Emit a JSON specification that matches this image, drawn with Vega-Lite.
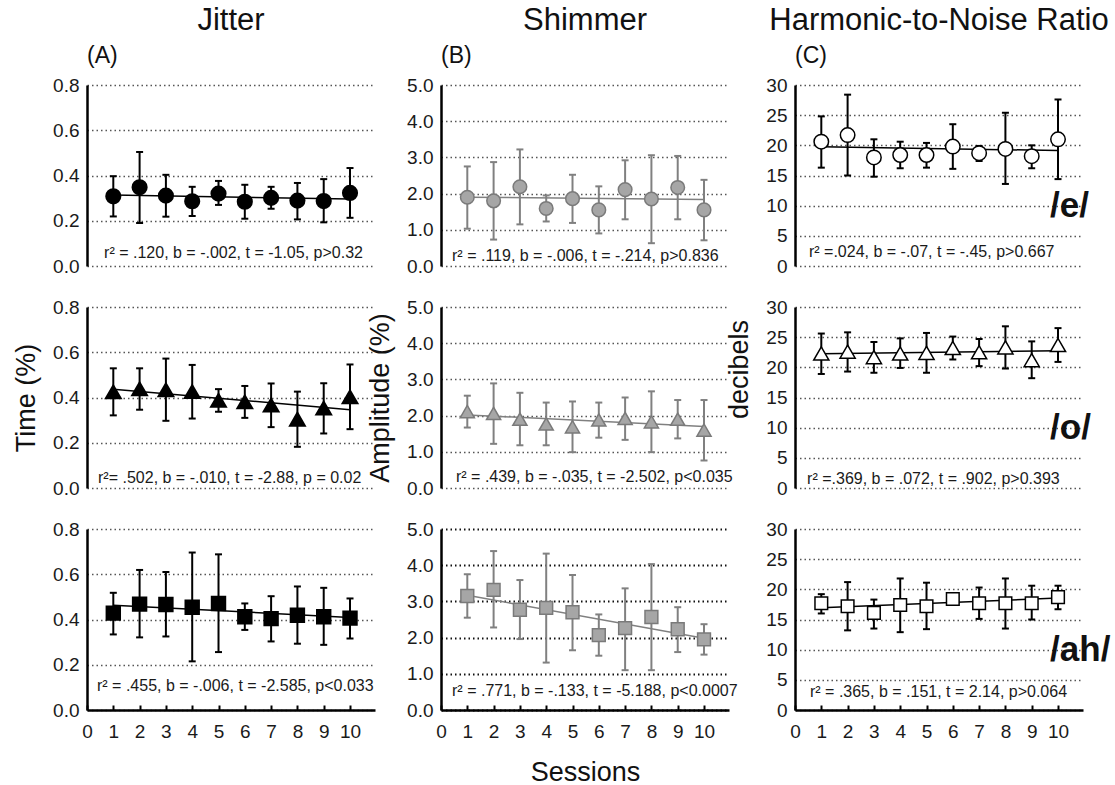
{
"$schema": "https://vega.github.io/schema/vega-lite/v6.json",
"background": "white",
"padding": {"left": 12, "top": 5, "right": 5, "bottom": 0},
"config": {
 "font": "Liberation Sans",
 "view": {"stroke": null},
 "title": {"font": "Liberation Sans", "fontSize": 31, "fontWeight": "normal", "color": "#111", "anchor": "middle", "offset": 8},
 "text": {"font": "Liberation Sans"},
 "axis": {"labelFont": "Liberation Sans", "labelFontSize": 19, "labelColor": "#1a1a1a", "titleFont": "Liberation Sans", "titleFontSize": 27, "titleFontWeight": "normal", "titleColor": "#111", "domainColor": "#000", "domainWidth": 2.5, "ticks": false, "labelPadding": 8, "labelFlush": false, "labelOverlap": false},
 "axisY": {"grid": true, "gridColor": "#555", "gridDash": [1.5, 3], "gridWidth": 1.5, "titlePadding": 12},
 "axisX": {"grid": false, "ticks": true, "tickSize": -5, "tickWidth": 2, "tickColor": "#000", "labelPadding": 17, "titlePadding": 18, "titleFontSize": 27}
},
"datasets": {
 "pts": [
  {"m":"J","v":"e","s":1,"mean":0.308,"lo":0.219,"hi":0.397},
  {"m":"J","v":"e","s":2,"mean":0.348,"lo":0.19,"hi":0.504},
  {"m":"J","v":"e","s":3,"mean":0.311,"lo":0.218,"hi":0.403},
  {"m":"J","v":"e","s":4,"mean":0.286,"lo":0.221,"hi":0.35},
  {"m":"J","v":"e","s":5,"mean":0.32,"lo":0.27,"hi":0.376},
  {"m":"J","v":"e","s":6,"mean":0.284,"lo":0.209,"hi":0.359},
  {"m":"J","v":"e","s":7,"mean":0.301,"lo":0.253,"hi":0.35},
  {"m":"J","v":"e","s":8,"mean":0.289,"lo":0.206,"hi":0.367},
  {"m":"J","v":"e","s":9,"mean":0.287,"lo":0.193,"hi":0.384},
  {"m":"J","v":"e","s":10,"mean":0.323,"lo":0.213,"hi":0.433},
  {"m":"J","v":"o","s":1,"mean":0.425,"lo":0.321,"hi":0.529},
  {"m":"J","v":"o","s":2,"mean":0.438,"lo":0.346,"hi":0.529},
  {"m":"J","v":"o","s":3,"mean":0.434,"lo":0.297,"hi":0.572},
  {"m":"J","v":"o","s":4,"mean":0.426,"lo":0.307,"hi":0.544},
  {"m":"J","v":"o","s":5,"mean":0.387,"lo":0.337,"hi":0.437},
  {"m":"J","v":"o","s":6,"mean":0.381,"lo":0.31,"hi":0.451},
  {"m":"J","v":"o","s":7,"mean":0.366,"lo":0.269,"hi":0.462},
  {"m":"J","v":"o","s":8,"mean":0.304,"lo":0.182,"hi":0.426},
  {"m":"J","v":"o","s":9,"mean":0.353,"lo":0.241,"hi":0.463},
  {"m":"J","v":"o","s":10,"mean":0.403,"lo":0.26,"hi":0.546},
  {"m":"J","v":"ah","s":1,"mean":0.428,"lo":0.334,"hi":0.518},
  {"m":"J","v":"ah","s":2,"mean":0.468,"lo":0.321,"hi":0.619},
  {"m":"J","v":"ah","s":3,"mean":0.466,"lo":0.325,"hi":0.61},
  {"m":"J","v":"ah","s":4,"mean":0.454,"lo":0.215,"hi":0.696},
  {"m":"J","v":"ah","s":5,"mean":0.471,"lo":0.256,"hi":0.688},
  {"m":"J","v":"ah","s":6,"mean":0.412,"lo":0.354,"hi":0.471},
  {"m":"J","v":"ah","s":7,"mean":0.404,"lo":0.303,"hi":0.503},
  {"m":"J","v":"ah","s":8,"mean":0.419,"lo":0.293,"hi":0.546},
  {"m":"J","v":"ah","s":9,"mean":0.412,"lo":0.288,"hi":0.54},
  {"m":"J","v":"ah","s":10,"mean":0.406,"lo":0.316,"hi":0.493},
  {"m":"S","v":"e","s":1,"mean":1.9,"lo":1.03,"hi":2.75},
  {"m":"S","v":"e","s":2,"mean":1.8,"lo":0.73,"hi":2.87},
  {"m":"S","v":"e","s":3,"mean":2.19,"lo":1.15,"hi":3.22},
  {"m":"S","v":"e","s":4,"mean":1.59,"lo":1.23,"hi":1.95},
  {"m":"S","v":"e","s":5,"mean":1.86,"lo":1.19,"hi":2.52},
  {"m":"S","v":"e","s":6,"mean":1.55,"lo":0.9,"hi":2.2},
  {"m":"S","v":"e","s":7,"mean":2.11,"lo":1.29,"hi":2.92},
  {"m":"S","v":"e","s":8,"mean":1.85,"lo":0.63,"hi":3.06},
  {"m":"S","v":"e","s":9,"mean":2.17,"lo":1.29,"hi":3.04},
  {"m":"S","v":"e","s":10,"mean":1.55,"lo":0.71,"hi":2.38},
  {"m":"S","v":"o","s":1,"mean":2.11,"lo":1.67,"hi":2.55},
  {"m":"S","v":"o","s":2,"mean":2.06,"lo":1.22,"hi":2.89},
  {"m":"S","v":"o","s":3,"mean":1.9,"lo":1.18,"hi":2.63},
  {"m":"S","v":"o","s":4,"mean":1.77,"lo":1.18,"hi":2.36},
  {"m":"S","v":"o","s":5,"mean":1.69,"lo":0.99,"hi":2.39},
  {"m":"S","v":"o","s":6,"mean":1.88,"lo":1.39,"hi":2.36},
  {"m":"S","v":"o","s":7,"mean":1.92,"lo":1.33,"hi":2.5},
  {"m":"S","v":"o","s":8,"mean":1.83,"lo":0.99,"hi":2.67},
  {"m":"S","v":"o","s":9,"mean":1.9,"lo":1.37,"hi":2.43},
  {"m":"S","v":"o","s":10,"mean":1.6,"lo":0.76,"hi":2.43},
  {"m":"S","v":"ah","s":1,"mean":3.15,"lo":2.55,"hi":3.75},
  {"m":"S","v":"ah","s":2,"mean":3.32,"lo":2.28,"hi":4.39},
  {"m":"S","v":"ah","s":3,"mean":2.77,"lo":1.96,"hi":3.59},
  {"m":"S","v":"ah","s":4,"mean":2.82,"lo":1.31,"hi":4.32},
  {"m":"S","v":"ah","s":5,"mean":2.7,"lo":1.65,"hi":3.73},
  {"m":"S","v":"ah","s":6,"mean":2.07,"lo":1.5,"hi":2.64},
  {"m":"S","v":"ah","s":7,"mean":2.26,"lo":1.1,"hi":3.36},
  {"m":"S","v":"ah","s":8,"mean":2.57,"lo":1.1,"hi":4.03},
  {"m":"S","v":"ah","s":9,"mean":2.23,"lo":1.6,"hi":2.84},
  {"m":"S","v":"ah","s":10,"mean":1.95,"lo":1.53,"hi":2.37},
  {"m":"H","v":"e","s":1,"mean":20.6,"lo":16.3,"hi":24.8},
  {"m":"H","v":"e","s":2,"mean":21.7,"lo":15.0,"hi":28.4},
  {"m":"H","v":"e","s":3,"mean":18.0,"lo":14.8,"hi":21.0},
  {"m":"H","v":"e","s":4,"mean":18.4,"lo":16.2,"hi":20.6},
  {"m":"H","v":"e","s":5,"mean":18.4,"lo":16.3,"hi":20.4},
  {"m":"H","v":"e","s":6,"mean":19.8,"lo":16.1,"hi":23.5},
  {"m":"H","v":"e","s":7,"mean":18.7,"lo":17.4,"hi":19.9},
  {"m":"H","v":"e","s":8,"mean":19.4,"lo":13.6,"hi":25.4},
  {"m":"H","v":"e","s":9,"mean":18.2,"lo":16.2,"hi":20.0},
  {"m":"H","v":"e","s":10,"mean":21.0,"lo":14.4,"hi":27.6},
  {"m":"H","v":"o","s":1,"mean":22.3,"lo":18.9,"hi":25.6},
  {"m":"H","v":"o","s":2,"mean":22.6,"lo":19.3,"hi":25.8},
  {"m":"H","v":"o","s":3,"mean":21.7,"lo":19.1,"hi":24.2},
  {"m":"H","v":"o","s":4,"mean":22.3,"lo":19.9,"hi":24.8},
  {"m":"H","v":"o","s":5,"mean":22.4,"lo":19.1,"hi":25.7},
  {"m":"H","v":"o","s":6,"mean":23.2,"lo":21.3,"hi":25.1},
  {"m":"H","v":"o","s":7,"mean":22.5,"lo":20.2,"hi":24.7},
  {"m":"H","v":"o","s":8,"mean":23.3,"lo":19.8,"hi":26.8},
  {"m":"H","v":"o","s":9,"mean":21.2,"lo":18.2,"hi":24.3},
  {"m":"H","v":"o","s":10,"mean":23.7,"lo":20.9,"hi":26.5},
  {"m":"H","v":"ah","s":1,"mean":17.7,"lo":16.0,"hi":19.2},
  {"m":"H","v":"ah","s":2,"mean":17.2,"lo":13.2,"hi":21.2},
  {"m":"H","v":"ah","s":3,"mean":16.1,"lo":13.5,"hi":18.3},
  {"m":"H","v":"ah","s":4,"mean":17.4,"lo":12.9,"hi":21.8},
  {"m":"H","v":"ah","s":5,"mean":17.2,"lo":13.4,"hi":21.1},
  {"m":"H","v":"ah","s":6,"mean":18.4,"lo":17.8,"hi":19.0},
  {"m":"H","v":"ah","s":7,"mean":17.7,"lo":15.1,"hi":20.3},
  {"m":"H","v":"ah","s":8,"mean":17.7,"lo":13.5,"hi":21.8},
  {"m":"H","v":"ah","s":9,"mean":17.7,"lo":15.0,"hi":20.6},
  {"m":"H","v":"ah","s":10,"mean":18.7,"lo":16.7,"hi":20.6}
 ],
 "fit": [
  {"m":"J","v":"e","s":1,"f":0.314},{"m":"J","v":"e","s":10,"f":0.296},
  {"m":"J","v":"o","s":1,"f":0.437},{"m":"J","v":"o","s":10,"f":0.346},
  {"m":"J","v":"ah","s":1,"f":0.463},{"m":"J","v":"ah","s":10,"f":0.409},
  {"m":"S","v":"e","s":1,"f":1.9},{"m":"S","v":"e","s":10,"f":1.84},
  {"m":"S","v":"o","s":1,"f":2.02},{"m":"S","v":"o","s":10,"f":1.7},
  {"m":"S","v":"ah","s":1,"f":3.17},{"m":"S","v":"ah","s":10,"f":1.98},
  {"m":"H","v":"e","s":1,"f":19.75},{"m":"H","v":"e","s":10,"f":19.14},
  {"m":"H","v":"o","s":1,"f":22.25},{"m":"H","v":"o","s":10,"f":22.75},
  {"m":"H","v":"ah","s":1,"f":16.95},{"m":"H","v":"ah","s":10,"f":18.55}
 ]
},
"columns": 3,
"bounds": "flush",
"spacing": {"row": 41, "column": 66},
"concat": [
 {
  "width": 288, "height": 181,
  "title": {"text": "Jitter", "frame": "group"},
  "resolve": {"axis": {"x": "independent", "y": "independent"}},
  "layer": [
   {"encoding": {
     "x": {"field": "s", "type": "quantitative", "scale": {"domain": [0, 10.95], "nice": false}, "axis": null},
     "y": {"field": "mean", "type": "quantitative", "scale": {"domain": [0, 0.8], "nice": false}, "axis": {"values": [0, 0.2, 0.4, 0.6, 0.8], "tickCount": 5, "format": ".1f", "title": null}}},
    "layer": [
     {"data": {"name": "pts"}, "transform": [{"filter": "datum.m == 'J' && datum.v == 'e'"}], "mark": {"type": "rule", "color": "#000", "strokeWidth": 2}, "encoding": {"y": {"field": "lo"}, "y2": {"field": "hi"}}},
     {"data": {"name": "pts"}, "transform": [{"filter": "datum.m == 'J' && datum.v == 'e'"}], "mark": {"type": "tick", "orient": "horizontal", "size": 7, "thickness": 2, "color": "#000", "opacity": 1}, "encoding": {"y": {"field": "lo"}}},
     {"data": {"name": "pts"}, "transform": [{"filter": "datum.m == 'J' && datum.v == 'e'"}], "mark": {"type": "tick", "orient": "horizontal", "size": 7, "thickness": 2, "color": "#000", "opacity": 1}, "encoding": {"y": {"field": "hi"}}},
     {"data": {"name": "fit"}, "transform": [{"filter": "datum.m == 'J' && datum.v == 'e'"}], "mark": {"type": "line", "color": "#000", "strokeWidth": 1.5}, "encoding": {"y": {"field": "f"}}},
     {"data": {"name": "pts"}, "transform": [{"filter": "datum.m == 'J' && datum.v == 'e'"}], "mark": {"type": "point", "shape": "circle", "filled": true, "fill": "#000", "stroke": "#000", "size": 200, "opacity": 1}}
    ]},
   {"data": {"values": [{"k": 1}]}, "mark": {"type": "text", "align": "left", "baseline": "middle", "fontSize": 16, "color": "#1a1a1a", "text": "r² = .120, b = -.002, t = -1.05, p>0.32"}, "encoding": {"x": {"datum": 0.65, "type": "quantitative", "axis": null}, "y": {"datum": 0.057, "type": "quantitative", "axis": null}}},
   {"data": {"values": [{"k": 1}]}, "mark": {"type": "text", "align": "left", "baseline": "middle", "fontSize": 23, "dy": -29, "color": "#111", "text": "(A)"}, "encoding": {"x": {"datum": 0, "type": "quantitative", "axis": null}, "y": {"datum": 0.8, "type": "quantitative", "axis": null}}}
  ]
 },
 {
  "width": 288, "height": 181,
  "title": {"text": "Shimmer", "frame": "group"},
  "resolve": {"axis": {"x": "independent", "y": "independent"}},
  "layer": [
   {"encoding": {
     "x": {"field": "s", "type": "quantitative", "scale": {"domain": [0, 10.95], "nice": false}, "axis": null},
     "y": {"field": "mean", "type": "quantitative", "scale": {"domain": [0, 5], "nice": false}, "axis": {"values": [0, 1, 2, 3, 4, 5], "tickCount": 6, "format": ".1f", "title": null}}},
    "layer": [
     {"data": {"name": "pts"}, "transform": [{"filter": "datum.m == 'S' && datum.v == 'e'"}], "mark": {"type": "rule", "color": "#808080", "strokeWidth": 2}, "encoding": {"y": {"field": "lo"}, "y2": {"field": "hi"}}},
     {"data": {"name": "pts"}, "transform": [{"filter": "datum.m == 'S' && datum.v == 'e'"}], "mark": {"type": "tick", "orient": "horizontal", "size": 7, "thickness": 2, "color": "#808080", "opacity": 1}, "encoding": {"y": {"field": "lo"}}},
     {"data": {"name": "pts"}, "transform": [{"filter": "datum.m == 'S' && datum.v == 'e'"}], "mark": {"type": "tick", "orient": "horizontal", "size": 7, "thickness": 2, "color": "#808080", "opacity": 1}, "encoding": {"y": {"field": "hi"}}},
     {"data": {"name": "fit"}, "transform": [{"filter": "datum.m == 'S' && datum.v == 'e'"}], "mark": {"type": "line", "color": "#808080", "strokeWidth": 1.5}, "encoding": {"y": {"field": "f"}}},
     {"data": {"name": "pts"}, "transform": [{"filter": "datum.m == 'S' && datum.v == 'e'"}], "mark": {"type": "point", "shape": "circle", "filled": true, "fill": "#a6a6a6", "stroke": "#7a7a7a", "strokeWidth": 1.5, "size": 185, "opacity": 1}}
    ]},
   {"data": {"values": [{"k": 1}]}, "mark": {"type": "text", "align": "left", "baseline": "middle", "fontSize": 16, "color": "#1a1a1a", "text": "r² = .119, b = -.006, t = -.214, p>0.836"}, "encoding": {"x": {"datum": 0.42, "type": "quantitative", "axis": null}, "y": {"datum": 0.27, "type": "quantitative", "axis": null}}},
   {"data": {"values": [{"k": 1}]}, "mark": {"type": "text", "align": "left", "baseline": "middle", "fontSize": 23, "dy": -29, "color": "#111", "text": "(B)"}, "encoding": {"x": {"datum": 0, "type": "quantitative", "axis": null}, "y": {"datum": 5, "type": "quantitative", "axis": null}}}
  ]
 },
 {
  "width": 288, "height": 181,
  "title": {"text": "Harmonic-to-Noise Ratio", "frame": "group"},
  "resolve": {"axis": {"x": "independent", "y": "independent"}},
  "layer": [
   {"encoding": {
     "x": {"field": "s", "type": "quantitative", "scale": {"domain": [0, 10.95], "nice": false}, "axis": null},
     "y": {"field": "mean", "type": "quantitative", "scale": {"domain": [0, 30], "nice": false}, "axis": {"values": [0, 5, 10, 15, 20, 25, 30], "tickCount": 7, "title": null}}},
    "layer": [
     {"data": {"name": "pts"}, "transform": [{"filter": "datum.m == 'H' && datum.v == 'e'"}], "mark": {"type": "rule", "color": "#000", "strokeWidth": 2}, "encoding": {"y": {"field": "lo"}, "y2": {"field": "hi"}}},
     {"data": {"name": "pts"}, "transform": [{"filter": "datum.m == 'H' && datum.v == 'e'"}], "mark": {"type": "tick", "orient": "horizontal", "size": 7, "thickness": 2, "color": "#000", "opacity": 1}, "encoding": {"y": {"field": "lo"}}},
     {"data": {"name": "pts"}, "transform": [{"filter": "datum.m == 'H' && datum.v == 'e'"}], "mark": {"type": "tick", "orient": "horizontal", "size": 7, "thickness": 2, "color": "#000", "opacity": 1}, "encoding": {"y": {"field": "hi"}}},
     {"data": {"name": "fit"}, "transform": [{"filter": "datum.m == 'H' && datum.v == 'e'"}], "mark": {"type": "line", "color": "#000", "strokeWidth": 1.5}, "encoding": {"y": {"field": "f"}}},
     {"data": {"name": "pts"}, "transform": [{"filter": "datum.m == 'H' && datum.v == 'e'"}], "mark": {"type": "point", "shape": "circle", "filled": true, "fill": "#fff", "stroke": "#000", "strokeWidth": 1.5, "size": 210, "opacity": 1}}
    ]},
   {"data": {"values": [{"k": 1}]}, "mark": {"type": "text", "align": "left", "baseline": "middle", "fontSize": 16, "color": "#1a1a1a", "text": "r² =.024, b = -.07,  t = -.45, p>0.667"}, "encoding": {"x": {"datum": 0.53, "type": "quantitative", "axis": null}, "y": {"datum": 2.3, "type": "quantitative", "axis": null}}},
   {"data": {"values": [{"k": 1}]}, "mark": {"type": "text", "align": "left", "baseline": "middle", "fontSize": 23, "dy": -29, "color": "#111", "text": "(C)"}, "encoding": {"x": {"datum": 0, "type": "quantitative", "axis": null}, "y": {"datum": 30, "type": "quantitative", "axis": null}}},
   {"data": {"values": [{"k": 1}]}, "mark": {"type": "text", "align": "left", "baseline": "middle", "fontSize": 35, "fontWeight": "bold", "color": "#111", "text": "/e/"}, "encoding": {"x": {"datum": 9.7, "type": "quantitative", "axis": null}, "y": {"datum": 10, "type": "quantitative", "axis": null}}}
  ]
 },
 {
  "width": 288, "height": 181,
  "resolve": {"axis": {"x": "independent", "y": "independent"}},
  "layer": [
   {"encoding": {
     "x": {"field": "s", "type": "quantitative", "scale": {"domain": [0, 10.95], "nice": false}, "axis": null},
     "y": {"field": "mean", "type": "quantitative", "scale": {"domain": [0, 0.8], "nice": false}, "axis": {"values": [0, 0.2, 0.4, 0.6, 0.8], "tickCount": 5, "format": ".1f", "title": "Time (%)"}}},
    "layer": [
     {"data": {"name": "pts"}, "transform": [{"filter": "datum.m == 'J' && datum.v == 'o'"}], "mark": {"type": "rule", "color": "#000", "strokeWidth": 2}, "encoding": {"y": {"field": "lo"}, "y2": {"field": "hi"}}},
     {"data": {"name": "pts"}, "transform": [{"filter": "datum.m == 'J' && datum.v == 'o'"}], "mark": {"type": "tick", "orient": "horizontal", "size": 7, "thickness": 2, "color": "#000", "opacity": 1}, "encoding": {"y": {"field": "lo"}}},
     {"data": {"name": "pts"}, "transform": [{"filter": "datum.m == 'J' && datum.v == 'o'"}], "mark": {"type": "tick", "orient": "horizontal", "size": 7, "thickness": 2, "color": "#000", "opacity": 1}, "encoding": {"y": {"field": "hi"}}},
     {"data": {"name": "fit"}, "transform": [{"filter": "datum.m == 'J' && datum.v == 'o'"}], "mark": {"type": "line", "color": "#000", "strokeWidth": 1.5}, "encoding": {"y": {"field": "f"}}},
     {"data": {"name": "pts"}, "transform": [{"filter": "datum.m == 'J' && datum.v == 'o'"}], "mark": {"type": "point", "shape": "triangle-up", "filled": true, "fill": "#000", "stroke": "#000", "size": 220, "opacity": 1}}
    ]},
   {"data": {"values": [{"k": 1}]}, "mark": {"type": "text", "align": "left", "baseline": "middle", "fontSize": 16, "color": "#1a1a1a", "text": "r²= .502, b = -.010, t = -2.88, p = 0.02"}, "encoding": {"x": {"datum": 0.42, "type": "quantitative", "axis": null}, "y": {"datum": 0.045, "type": "quantitative", "axis": null}}}
  ]
 },
 {
  "width": 288, "height": 181,
  "resolve": {"axis": {"x": "independent", "y": "independent"}},
  "layer": [
   {"encoding": {
     "x": {"field": "s", "type": "quantitative", "scale": {"domain": [0, 10.95], "nice": false}, "axis": null},
     "y": {"field": "mean", "type": "quantitative", "scale": {"domain": [0, 5], "nice": false}, "axis": {"values": [0, 1, 2, 3, 4, 5], "tickCount": 6, "format": ".1f", "title": "Amplitude (%)"}}},
    "layer": [
     {"data": {"name": "pts"}, "transform": [{"filter": "datum.m == 'S' && datum.v == 'o'"}], "mark": {"type": "rule", "color": "#808080", "strokeWidth": 2}, "encoding": {"y": {"field": "lo"}, "y2": {"field": "hi"}}},
     {"data": {"name": "pts"}, "transform": [{"filter": "datum.m == 'S' && datum.v == 'o'"}], "mark": {"type": "tick", "orient": "horizontal", "size": 7, "thickness": 2, "color": "#808080", "opacity": 1}, "encoding": {"y": {"field": "lo"}}},
     {"data": {"name": "pts"}, "transform": [{"filter": "datum.m == 'S' && datum.v == 'o'"}], "mark": {"type": "tick", "orient": "horizontal", "size": 7, "thickness": 2, "color": "#808080", "opacity": 1}, "encoding": {"y": {"field": "hi"}}},
     {"data": {"name": "fit"}, "transform": [{"filter": "datum.m == 'S' && datum.v == 'o'"}], "mark": {"type": "line", "color": "#808080", "strokeWidth": 1.5}, "encoding": {"y": {"field": "f"}}},
     {"data": {"name": "pts"}, "transform": [{"filter": "datum.m == 'S' && datum.v == 'o'"}], "mark": {"type": "point", "shape": "triangle-up", "filled": true, "fill": "#a6a6a6", "stroke": "#7a7a7a", "strokeWidth": 1.5, "size": 200, "opacity": 1}}
    ]},
   {"data": {"values": [{"k": 1}]}, "mark": {"type": "text", "align": "left", "baseline": "middle", "fontSize": 16, "color": "#1a1a1a", "text": "r² = .439, b = -.035,  t = -2.502, p<0.035"}, "encoding": {"x": {"datum": 0.57, "type": "quantitative", "axis": null}, "y": {"datum": 0.3, "type": "quantitative", "axis": null}}}
  ]
 },
 {
  "width": 288, "height": 181,
  "resolve": {"axis": {"x": "independent", "y": "independent"}},
  "layer": [
   {"encoding": {
     "x": {"field": "s", "type": "quantitative", "scale": {"domain": [0, 10.95], "nice": false}, "axis": null},
     "y": {"field": "mean", "type": "quantitative", "scale": {"domain": [0, 30], "nice": false}, "axis": {"values": [0, 5, 10, 15, 20, 25, 30], "tickCount": 7, "title": "decibels", "titleY": 62}}},
    "layer": [
     {"data": {"name": "pts"}, "transform": [{"filter": "datum.m == 'H' && datum.v == 'o'"}], "mark": {"type": "rule", "color": "#000", "strokeWidth": 2}, "encoding": {"y": {"field": "lo"}, "y2": {"field": "hi"}}},
     {"data": {"name": "pts"}, "transform": [{"filter": "datum.m == 'H' && datum.v == 'o'"}], "mark": {"type": "tick", "orient": "horizontal", "size": 7, "thickness": 2, "color": "#000", "opacity": 1}, "encoding": {"y": {"field": "lo"}}},
     {"data": {"name": "pts"}, "transform": [{"filter": "datum.m == 'H' && datum.v == 'o'"}], "mark": {"type": "tick", "orient": "horizontal", "size": 7, "thickness": 2, "color": "#000", "opacity": 1}, "encoding": {"y": {"field": "hi"}}},
     {"data": {"name": "fit"}, "transform": [{"filter": "datum.m == 'H' && datum.v == 'o'"}], "mark": {"type": "line", "color": "#000", "strokeWidth": 1.5}, "encoding": {"y": {"field": "f"}}},
     {"data": {"name": "pts"}, "transform": [{"filter": "datum.m == 'H' && datum.v == 'o'"}], "mark": {"type": "point", "shape": "triangle-up", "filled": true, "fill": "#fff", "stroke": "#000", "strokeWidth": 1.5, "size": 230, "opacity": 1}}
    ]},
   {"data": {"values": [{"k": 1}]}, "mark": {"type": "text", "align": "left", "baseline": "middle", "fontSize": 16, "color": "#1a1a1a", "text": "r² =.369, b = .072, t = .902, p>0.393"}, "encoding": {"x": {"datum": 0.46, "type": "quantitative", "axis": null}, "y": {"datum": 1.5, "type": "quantitative", "axis": null}}},
   {"data": {"values": [{"k": 1}]}, "mark": {"type": "text", "align": "left", "baseline": "middle", "fontSize": 35, "fontWeight": "bold", "color": "#111", "text": "/o/"}, "encoding": {"x": {"datum": 9.7, "type": "quantitative", "axis": null}, "y": {"datum": 10, "type": "quantitative", "axis": null}}}
  ]
 },
 {
  "width": 288, "height": 181,
  "resolve": {"axis": {"x": "independent", "y": "independent"}},
  "layer": [
   {"encoding": {
     "x": {"field": "s", "type": "quantitative", "scale": {"domain": [0, 10.95], "nice": false}, "axis": {"values": [0, 1, 2, 3, 4, 5, 6, 7, 8, 9, 10], "tickCount": 11, "title": null}},
     "y": {"field": "mean", "type": "quantitative", "scale": {"domain": [0, 0.8], "nice": false}, "axis": {"values": [0, 0.2, 0.4, 0.6, 0.8], "tickCount": 5, "format": ".1f", "title": null}}},
    "layer": [
     {"data": {"name": "pts"}, "transform": [{"filter": "datum.m == 'J' && datum.v == 'ah'"}], "mark": {"type": "rule", "color": "#000", "strokeWidth": 2}, "encoding": {"y": {"field": "lo"}, "y2": {"field": "hi"}}},
     {"data": {"name": "pts"}, "transform": [{"filter": "datum.m == 'J' && datum.v == 'ah'"}], "mark": {"type": "tick", "orient": "horizontal", "size": 7, "thickness": 2, "color": "#000", "opacity": 1}, "encoding": {"y": {"field": "lo"}}},
     {"data": {"name": "pts"}, "transform": [{"filter": "datum.m == 'J' && datum.v == 'ah'"}], "mark": {"type": "tick", "orient": "horizontal", "size": 7, "thickness": 2, "color": "#000", "opacity": 1}, "encoding": {"y": {"field": "hi"}}},
     {"data": {"name": "fit"}, "transform": [{"filter": "datum.m == 'J' && datum.v == 'ah'"}], "mark": {"type": "line", "color": "#000", "strokeWidth": 1.5}, "encoding": {"y": {"field": "f"}}},
     {"data": {"name": "pts"}, "transform": [{"filter": "datum.m == 'J' && datum.v == 'ah'"}], "mark": {"type": "point", "shape": "square", "filled": true, "fill": "#000", "stroke": "#000", "size": 180, "opacity": 1}}
    ]},
   {"data": {"values": [{"k": 1}]}, "mark": {"type": "text", "align": "left", "baseline": "middle", "fontSize": 16, "color": "#1a1a1a", "text": "r² = .455, b = -.006, t = -2.585, p<0.033"}, "encoding": {"x": {"datum": 0.38, "type": "quantitative", "axis": null}, "y": {"datum": 0.105, "type": "quantitative", "axis": null}}}
  ]
 },
 {
  "width": 288, "height": 181,
  "resolve": {"axis": {"x": "independent", "y": "independent"}},
  "layer": [
   {"encoding": {
     "x": {"field": "s", "type": "quantitative", "scale": {"domain": [0, 10.95], "nice": false}, "axis": {"values": [0, 1, 2, 3, 4, 5, 6, 7, 8, 9, 10], "tickCount": 11, "title": "Sessions"}},
     "y": {"field": "mean", "type": "quantitative", "scale": {"domain": [0, 5], "nice": false}, "axis": {"values": [0, 1, 2, 3, 4, 5], "tickCount": 6, "format": ".1f", "title": null, "gridColor": "#111", "gridWidth": 2}}},
    "layer": [
     {"data": {"name": "pts"}, "transform": [{"filter": "datum.m == 'S' && datum.v == 'ah'"}], "mark": {"type": "rule", "color": "#808080", "strokeWidth": 2}, "encoding": {"y": {"field": "lo"}, "y2": {"field": "hi"}}},
     {"data": {"name": "pts"}, "transform": [{"filter": "datum.m == 'S' && datum.v == 'ah'"}], "mark": {"type": "tick", "orient": "horizontal", "size": 7, "thickness": 2, "color": "#808080", "opacity": 1}, "encoding": {"y": {"field": "lo"}}},
     {"data": {"name": "pts"}, "transform": [{"filter": "datum.m == 'S' && datum.v == 'ah'"}], "mark": {"type": "tick", "orient": "horizontal", "size": 7, "thickness": 2, "color": "#808080", "opacity": 1}, "encoding": {"y": {"field": "hi"}}},
     {"data": {"name": "fit"}, "transform": [{"filter": "datum.m == 'S' && datum.v == 'ah'"}], "mark": {"type": "line", "color": "#808080", "strokeWidth": 1.5}, "encoding": {"y": {"field": "f"}}},
     {"data": {"name": "pts"}, "transform": [{"filter": "datum.m == 'S' && datum.v == 'ah'"}], "mark": {"type": "point", "shape": "square", "filled": true, "fill": "#a6a6a6", "stroke": "#7a7a7a", "strokeWidth": 1.5, "size": 165, "opacity": 1}}
    ]},
   {"data": {"values": [{"k": 1}]}, "mark": {"type": "text", "align": "left", "baseline": "middle", "fontSize": 16, "color": "#1a1a1a", "text": "r² = .771, b = -.133, t = -5.188, p<0.0007"}, "encoding": {"x": {"datum": 0.42, "type": "quantitative", "axis": null}, "y": {"datum": 0.52, "type": "quantitative", "axis": null}}}
  ]
 },
 {
  "width": 288, "height": 181,
  "resolve": {"axis": {"x": "independent", "y": "independent"}},
  "layer": [
   {"encoding": {
     "x": {"field": "s", "type": "quantitative", "scale": {"domain": [0, 10.95], "nice": false}, "axis": {"values": [0, 1, 2, 3, 4, 5, 6, 7, 8, 9, 10], "tickCount": 11, "title": null}},
     "y": {"field": "mean", "type": "quantitative", "scale": {"domain": [0, 30], "nice": false}, "axis": {"values": [0, 5, 10, 15, 20, 25, 30], "tickCount": 7, "title": null}}},
    "layer": [
     {"data": {"name": "pts"}, "transform": [{"filter": "datum.m == 'H' && datum.v == 'ah'"}], "mark": {"type": "rule", "color": "#000", "strokeWidth": 2}, "encoding": {"y": {"field": "lo"}, "y2": {"field": "hi"}}},
     {"data": {"name": "pts"}, "transform": [{"filter": "datum.m == 'H' && datum.v == 'ah'"}], "mark": {"type": "tick", "orient": "horizontal", "size": 7, "thickness": 2, "color": "#000", "opacity": 1}, "encoding": {"y": {"field": "lo"}}},
     {"data": {"name": "pts"}, "transform": [{"filter": "datum.m == 'H' && datum.v == 'ah'"}], "mark": {"type": "tick", "orient": "horizontal", "size": 7, "thickness": 2, "color": "#000", "opacity": 1}, "encoding": {"y": {"field": "hi"}}},
     {"data": {"name": "fit"}, "transform": [{"filter": "datum.m == 'H' && datum.v == 'ah'"}], "mark": {"type": "line", "color": "#000", "strokeWidth": 1.5}, "encoding": {"y": {"field": "f"}}},
     {"data": {"name": "pts"}, "transform": [{"filter": "datum.m == 'H' && datum.v == 'ah'"}], "mark": {"type": "point", "shape": "square", "filled": true, "fill": "#fff", "stroke": "#000", "strokeWidth": 1.5, "size": 160, "opacity": 1}}
    ]},
   {"data": {"values": [{"k": 1}]}, "mark": {"type": "text", "align": "left", "baseline": "middle", "fontSize": 16, "color": "#1a1a1a", "text": "r² = .365, b = .151,  t = 2.14, p>0.064"}, "encoding": {"x": {"datum": 0.57, "type": "quantitative", "axis": null}, "y": {"datum": 3.0, "type": "quantitative", "axis": null}}},
   {"data": {"values": [{"k": 1}]}, "mark": {"type": "text", "align": "left", "baseline": "middle", "fontSize": 35, "fontWeight": "bold", "color": "#111", "text": "/ah/"}, "encoding": {"x": {"datum": 9.7, "type": "quantitative", "axis": null}, "y": {"datum": 10, "type": "quantitative", "axis": null}}}
  ]
 }
]
}
